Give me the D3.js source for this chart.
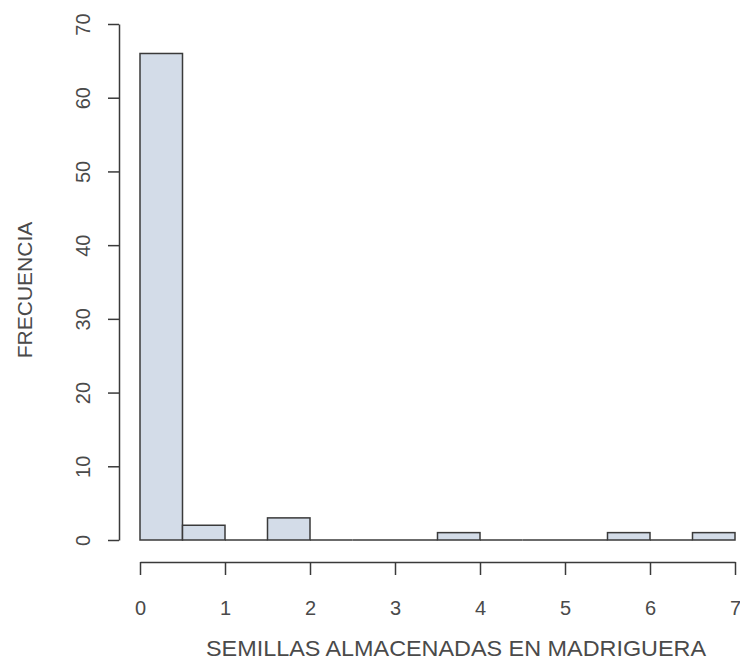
<!DOCTYPE html>
<html>
<head>
<meta charset="utf-8">
<script src="https://cdn.jsdelivr.net/npm/d3@7/dist/d3.min.js"></script>
<style>
  html, body { margin: 0; padding: 0; background: #fff; }
  svg { display: block; }
  text { font-family: "Liberation Sans", Arial, sans-serif; fill: #4a4a4a; }
</style>
</head>
<body>
<svg id="chart" width="740" height="661"></svg>
<script>
// Histogram bins (width 0.5) and their frequencies
const binStarts = [0, 0.5, 1, 1.5, 2, 2.5, 3, 3.5, 4, 4.5, 5, 5.5, 6, 6.5];
const binWidth = 0.5;
const counts = [66, 2, 0, 3, 0, 0, 0, 1, 0, 0, 0, 1, 0, 1];
const xTicks = [0, 1, 2, 3, 4, 5, 6, 7];
const yTicks = [0, 10, 20, 30, 40, 50, 60, 70];
const xTitle = "SEMILLAS ALMACENADAS EN MADRIGUERA";
const yTitle = "FRECUENCIA";

const svg = d3.select("#chart");
const x = d3.scaleLinear().domain([0, 7]).range([140, 735]);
const y = d3.scaleLinear().domain([0, 70]).range([540, 24]);
const bins = binStarts.map((s, i) => ({ s, c: counts[i] }));
const ink = "#3a3a3a";

// bars; empty bins collapse to a segment on the baseline
const barG = svg.append("g");
barG.selectAll("rect")
  .data(bins.filter(d => d.c > 0))
  .join("rect")
  .attr("x", d => x(d.s))
  .attr("y", d => y(d.c))
  .attr("width", d => x(d.s + binWidth) - x(d.s))
  .attr("height", d => y(0) - y(d.c))
  .attr("fill", "#d3dce8")
  .attr("stroke", ink)
  .attr("stroke-width", 1.5);
barG.selectAll("line")
  .data(bins.filter(d => d.c === 0))
  .join("line")
  .attr("x1", d => x(d.s))
  .attr("x2", d => x(d.s + binWidth))
  .attr("y1", y(0)).attr("y2", y(0))
  .attr("stroke", ink)
  .attr("stroke-width", 1.5);

// x axis, offset below the bars
const xAxis = svg.append("g")
  .attr("transform", "translate(0,562)")
  .call(d3.axisBottom(x).tickValues(xTicks).tickFormat(d3.format("d"))
    .tickSize(13).tickPadding(26).tickSizeOuter(0));
xAxis.select(".domain").attr("stroke", ink).attr("stroke-width", 1.5);
xAxis.selectAll(".tick line").attr("stroke", ink).attr("stroke-width", 1.5);
xAxis.selectAll(".tick text").style("font-size", "20px").style("fill", "#4a4a4a");

// y axis with rotated labels
const yAxis = svg.append("g")
  .attr("transform", "translate(119,0)")
  .call(d3.axisLeft(y).tickValues(yTicks).tickFormat(d3.format("d"))
    .tickSize(11).tickSizeOuter(0));
yAxis.select(".domain").attr("stroke", ink).attr("stroke-width", 1.5);
yAxis.selectAll(".tick line").attr("stroke", ink).attr("stroke-width", 1.5);
yAxis.selectAll(".tick text")
  .attr("x", null).attr("dy", null)
  .attr("transform", "translate(-36,0) rotate(-90)")
  .attr("text-anchor", "middle")
  .attr("dominant-baseline", "central")
  .style("font-size", "20px").style("fill", "#4a4a4a");

// axis titles
svg.append("text")
  .attr("x", 206).attr("y", 656)
  .attr("textLength", 500)
  .attr("lengthAdjust", "spacingAndGlyphs")
  .style("font-size", "22px")
  .text(xTitle);

svg.append("text")
  .attr("transform", "translate(32,290) rotate(-90)")
  .attr("text-anchor", "middle")
  .style("font-size", "21px")
  .text(yTitle);
</script>
</body>
</html>
